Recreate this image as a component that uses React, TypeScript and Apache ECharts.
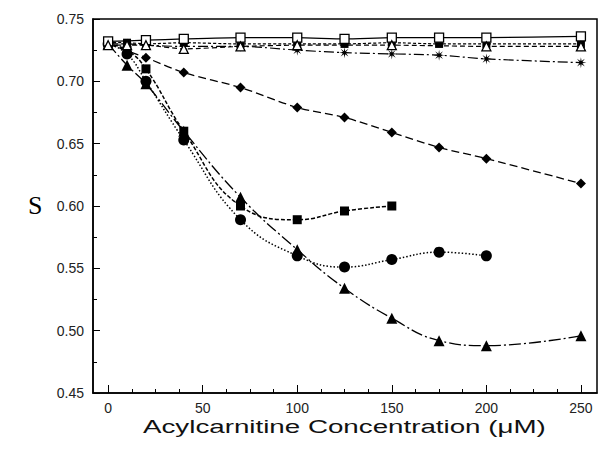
import React, { useEffect, useRef } from "react";
import * as echarts from "echarts";

const concentrations = [0, 10, 20, 40, 70, 100, 125, 150, 175, 200, 250];

const openSquares = [0.732, null, 0.733, 0.734, 0.735, 0.735, 0.734, 0.735, 0.735, 0.735, 0.736];
const filledFlat = [0.731, 0.731, 0.730, 0.731, 0.730, 0.730, 0.730, 0.731, 0.730, 0.730, 0.730];
const openTriangles = [0.729, 0.729, 0.729, 0.726, 0.728, 0.729, null, 0.729, null, 0.728, 0.728];
const asterisks = [0.730, 0.730, 0.729, 0.728, 0.728, 0.725, 0.723, 0.722, 0.721, 0.718, 0.715];
const diamonds = [0.730, null, 0.719, 0.707, 0.695, 0.679, 0.671, 0.659, 0.647, 0.638, 0.618];
const filledSquares = [0.730, 0.725, 0.710, 0.660, 0.600, 0.589, 0.596, 0.600, null, null, null];
const circles = [0.730, 0.722, 0.700, 0.653, 0.589, 0.560, 0.551, 0.557, 0.563, 0.560, null];
const triangles = [0.730, 0.713, 0.698, 0.660, 0.607, 0.565, 0.534, 0.510, 0.492, 0.488, 0.496];

const xLabels = [0, 50, 100, 150, 200, 250];
const xMinorTicks = [0, 12.5, 25, 37.5, 50, 62.5, 75, 87.5, 100, 112.5, 125, 137.5, 150, 162.5, 175, 187.5, 200, 212.5, 225, 237.5, 250];

function starPath(): string {
  const pts: string[] = [];
  const n = 8;
  for (let i = 0; i < n * 2; i++) {
    const r = i % 2 === 0 ? 10 : 3;
    const a = (Math.PI * i) / n - Math.PI / 2;
    pts.push(`${(10 + r * Math.cos(a)).toFixed(2)},${(10 + r * Math.sin(a)).toFixed(2)}`);
  }
  return "path://M" + pts.join("L") + "Z";
}

function pairs(vals: (number | null)[]) {
  const out: [number, number][] = [];
  vals.forEach((v, i) => {
    if (v !== null) out.push([concentrations[i], v]);
  });
  return out;
}

export default function App() {
  const ref = useRef<HTMLDivElement>(null);
  useEffect(() => {
    if (!ref.current) return;
    const chart = echarts.init(ref.current, null, { renderer: "svg" });
    const font = "Liberation Sans, Arial, sans-serif";
    const mk = (
      name: string,
      vals: (number | null)[],
      symbol: string,
      size: number,
      filled: boolean,
      dash: any,
      width = 1.2,
      smooth: number = 0.4
    ) => ({
      name,
      type: "line",
      data: pairs(vals),
      symbol,
      symbolSize: size,
      smooth,
      connectNulls: true,
      itemStyle: {
        color: filled ? "#000" : "#fff",
        borderColor: "#000",
        borderWidth: filled ? 0 : 1.3,
      },
      lineStyle: { color: "#000", width, type: dash },
      z: filled ? 3 : 4,
    });
    chart.setOption({
      animation: false,
      backgroundColor: "#fff",
      grid: {
        left: 93,
        top: 19,
        right: 1,
        bottom: 56,
        show: true,
        borderColor: "#000",
        borderWidth: 1.5,
        backgroundColor: "transparent",
      },
      xAxis: [
        {
          type: "value",
          min: -8,
          max: 258.5,
          axisLine: { show: true, onZero: false, lineStyle: { color: "#000", width: 1.5 } },
          axisTick: {
            show: true,
            inside: true,
            length: 8,
            lineStyle: { color: "#000", width: 1 },
            customValues: xLabels,
          },
          axisLabel: {
            customValues: xLabels,
            color: "#222",
            fontSize: 14,
            fontFamily: font,
            margin: 8,
          },
          splitLine: { show: false },
        },
        {
          type: "value",
          min: -8,
          max: 258.5,
          position: "bottom",
          axisLine: { show: false },
          axisTick: {
            show: true,
            inside: true,
            length: 4,
            lineStyle: { color: "#000", width: 1 },
            customValues: xMinorTicks,
          },
          axisLabel: { show: false },
          splitLine: { show: false },
        },
      ],
      yAxis: {
        type: "value",
        min: 0.45,
        max: 0.75,
        interval: 0.05,
        axisLine: { show: true, onZero: false, lineStyle: { color: "#000", width: 1.5 } },
        axisTick: { show: true, inside: true, length: 7, lineStyle: { color: "#000" } },
        minorTick: { show: true, splitNumber: 2, length: 4, lineStyle: { color: "#000" } },
        axisLabel: {
          color: "#222",
          fontSize: 14,
          fontFamily: font,
          margin: 9,
          formatter: (v: number) => v.toFixed(2),
        },
        splitLine: { show: false },
      },
      graphic: [
        {
          type: "text",
          left: 28,
          top: 192,
          style: { text: "S", font: "26px 'Liberation Serif', 'DejaVu Serif', serif", fill: "#000" },
        },
        {
          type: "text",
          x: 143,
          y: 417,
          scaleX: 1.46,
          style: {
            text: "Acylcarnitine Concentration (μM)",
            font: "19px 'Liberation Sans', Arial, sans-serif",
            fill: "#111",
          },
        },
      ],
      series: [
        mk("openSquares", openSquares, "rect", 9, false, "solid", 1.3, 0.2),
        mk("filledFlat", filledFlat, "rect", 8, true, [3, 2], 1.2, 0.2),
        mk("openTriangles", openTriangles, "triangle", 9, false, [5, 3], 1.2, 0.2),
        mk("asterisks", asterisks, starPath(), 11, true, [10, 3, 2, 3], 1.2, 0.3),
        mk("diamonds", diamonds, "diamond", 10, true, [8, 4], 1.3, 0.3),
        mk("filledSquares", filledSquares, "rect", 9, true, [4, 2], 1.5, 0.45),
        mk("circles", circles, "circle", 11, true, [1.5, 2], 1.5, 0.45),
        mk("triangles", triangles, "triangle", 11, true, [12, 3, 2, 3], 1.3, 0.45),
      ],
    });
    return () => chart.dispose();
  }, []);
  return (
    <div
      ref={ref}
      style={{ position: "absolute", left: 0, top: 0, width: 598, height: 449 }}
    />
  );
}
